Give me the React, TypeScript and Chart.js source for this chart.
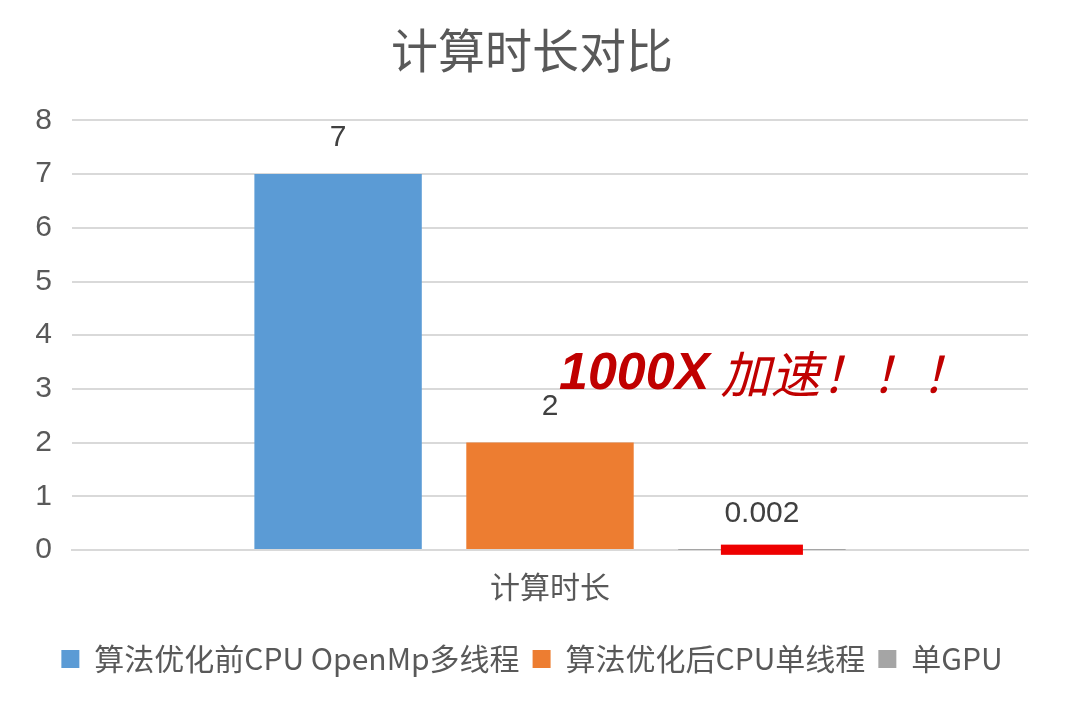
import React, { useEffect, useRef } from "react";
import { Chart, registerables } from "chart.js";

Chart.register(...registerables);

const titleText = "计算时长对比";
const categories = ["计算时长"];
const seriesNames = ["算法优化前CPU OpenMp多线程", "算法优化后CPU单线程", "单GPU"];
const seriesValues = [7, 2, 0.002];
const seriesColors = ["#5b9bd5", "#ed7d31", "#a5a5a5"];
const valueLabels = ["7", "2", "0.002"];
const yTicks = [0, 1, 2, 3, 4, 5, 6, 7, 8];
const highlightRange = [-0.09, 0.1];
const annotationBold = "1000X";
const annotationText = " 加速！！！";

const valueLabelPlugin = {
  id: "valueLabels",
  afterDatasetsDraw(chart: any) {
    const ctx = chart.ctx;
    ctx.save();
    ctx.font = "30px 'Liberation Sans', Arial, sans-serif";
    ctx.fillStyle = "#404040";
    ctx.textAlign = "center";
    ctx.textBaseline = "middle";
    chart.data.datasets.forEach((_ds: any, i: number) => {
      const meta = chart.getDatasetMeta(i);
      meta.data.forEach((bar: any) => {
        ctx.fillText(valueLabels[i], bar.x, bar.y - 36);
      });
    });
    // red highlight under the GPU bar
    const gpu = chart.getDatasetMeta(2).data[0];
    const ys = chart.scales.y;
    const top = ys.getPixelForValue(highlightRange[1]);
    const bot = ys.getPixelForValue(highlightRange[0]);
    const w = gpu.width * 0.49;
    ctx.fillStyle = "#ee0000";
    ctx.fillRect(gpu.x - w / 2, top, w, bot - top);
    // annotation text
    const orange = chart.getDatasetMeta(1).data[0];
    const ax = orange.x + 9;
    const ay = ys.getPixelForValue(3.27);
    ctx.textAlign = "left";
    ctx.textBaseline = "middle";
    ctx.fillStyle = "#c00000";
    ctx.font = "italic bold 52px 'Liberation Sans', Arial, sans-serif";
    ctx.fillText(annotationBold, ax, ay);
    const bw = ctx.measureText(annotationBold).width;
    ctx.font = "italic 50px 'Noto Sans CJK SC', sans-serif";
    ctx.fillText(annotationText, ax + bw, ay);
    ctx.restore();
  },
};

export default function App() {
  const ref = useRef<HTMLCanvasElement | null>(null);
  useEffect(() => {
    document.body.style.margin = "0";
    const chart = new Chart(ref.current as HTMLCanvasElement, {
      type: "bar",
      data: {
        labels: categories,
        datasets: seriesNames.map((name, i) => ({
          label: name,
          data: [seriesValues[i]],
          backgroundColor: seriesColors[i],
          borderWidth: 0,
          categoryPercentage: 0.665,
          barPercentage: 0.79,
        })),
      },
      options: {
        animation: false,
        responsive: false,
        maintainAspectRatio: false,
        layout: { padding: { left: 36, right: 52, top: 22, bottom: 30 } },
        plugins: {
          title: {
            display: true,
            text: titleText,
            color: "#595959",
            font: { family: "'Noto Sans CJK SC', sans-serif", size: 47, weight: "normal" },
            padding: { top: 0, bottom: 42 },
          },
          legend: {
            position: "bottom",
            labels: {
              color: "#595959",
              font: { family: "'Noto Sans CJK SC', sans-serif", size: 30 },
              boxWidth: 18,
              boxHeight: 18,
              padding: 13,
            },
          },
          tooltip: { enabled: false },
        },
        scales: {
          x: {
            grid: { display: false },
            border: { display: true, color: "#d9d9d9", width: 2 },
            ticks: {
              color: "#595959",
              font: { family: "'Noto Sans CJK SC', sans-serif", size: 30 },
              padding: 11,
            },
            afterFit: (axis: any) => {
              axis.height += 15;
            },
          },
          y: {
            min: 0,
            max: 8,
            afterBuildTicks: (axis: any) => {
              axis.ticks = yTicks.map((v) => ({ value: v }));
            },
            afterFit: (axis: any) => {
              axis.width = 36;
            },
            grid: { color: "#d9d9d9", lineWidth: 2, drawTicks: false },
            border: { display: false },
            ticks: {
              color: "#595959",
              font: { family: "'Liberation Sans', Arial, sans-serif", size: 30 },
              padding: 20,
            },
          },
        },
      },
      plugins: [valueLabelPlugin],
    } as any);
    return () => chart.destroy();
  }, []);
  return (
    <div style={{ position: "fixed", left: 0, top: 0, width: 1080, height: 714, background: "#fff" }}>
      <canvas ref={ref} width={1080} height={714} style={{ width: 1080, height: 714 }} />
    </div>
  );
}
